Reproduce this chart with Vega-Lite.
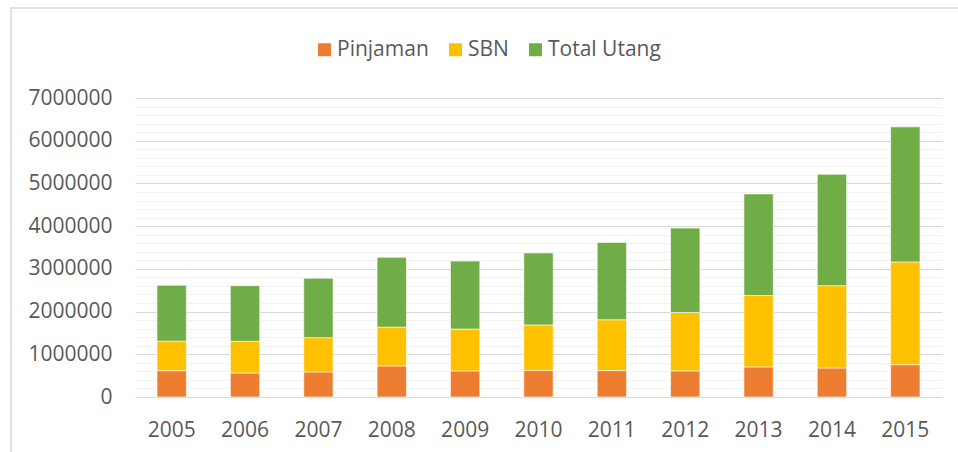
{
  "$schema": "https://vega.github.io/schema/vega-lite/v6.json",
  "width": 959,
  "height": 452,
  "autosize": "none",
  "padding": {"left": 11, "top": 8, "right": 0, "bottom": 0},
  "background": "white",
  "config": {
    "view": {"stroke": "#D9D9D9", "strokeWidth": 1.5},
    "font": "Open Sans"
  },
  "data": {
    "values": [
      {"year": "2005", "series": "Pinjaman", "ord": 1, "value": 615000},
      {"year": "2005", "series": "SBN", "ord": 2, "value": 693000},
      {"year": "2005", "series": "Total Utang", "ord": 3, "value": 1308000},
      {"year": "2006", "series": "Pinjaman", "ord": 1, "value": 563000},
      {"year": "2006", "series": "SBN", "ord": 2, "value": 740000},
      {"year": "2006", "series": "Total Utang", "ord": 3, "value": 1303000},
      {"year": "2007", "series": "Pinjaman", "ord": 1, "value": 587000},
      {"year": "2007", "series": "SBN", "ord": 2, "value": 803000},
      {"year": "2007", "series": "Total Utang", "ord": 3, "value": 1390000},
      {"year": "2008", "series": "Pinjaman", "ord": 1, "value": 728000},
      {"year": "2008", "series": "SBN", "ord": 2, "value": 907000},
      {"year": "2008", "series": "Total Utang", "ord": 3, "value": 1635000},
      {"year": "2009", "series": "Pinjaman", "ord": 1, "value": 611000},
      {"year": "2009", "series": "SBN", "ord": 2, "value": 980000},
      {"year": "2009", "series": "Total Utang", "ord": 3, "value": 1591000},
      {"year": "2010", "series": "Pinjaman", "ord": 1, "value": 622000},
      {"year": "2010", "series": "SBN", "ord": 2, "value": 1065000},
      {"year": "2010", "series": "Total Utang", "ord": 3, "value": 1687000},
      {"year": "2011", "series": "Pinjaman", "ord": 1, "value": 619000},
      {"year": "2011", "series": "SBN", "ord": 2, "value": 1190000},
      {"year": "2011", "series": "Total Utang", "ord": 3, "value": 1809000},
      {"year": "2012", "series": "Pinjaman", "ord": 1, "value": 612000},
      {"year": "2012", "series": "SBN", "ord": 2, "value": 1365000},
      {"year": "2012", "series": "Total Utang", "ord": 3, "value": 1977000},
      {"year": "2013", "series": "Pinjaman", "ord": 1, "value": 705000},
      {"year": "2013", "series": "SBN", "ord": 2, "value": 1672000},
      {"year": "2013", "series": "Total Utang", "ord": 3, "value": 2377000},
      {"year": "2014", "series": "Pinjaman", "ord": 1, "value": 681000},
      {"year": "2014", "series": "SBN", "ord": 2, "value": 1925000},
      {"year": "2014", "series": "Total Utang", "ord": 3, "value": 2606000},
      {"year": "2015", "series": "Pinjaman", "ord": 1, "value": 757000},
      {"year": "2015", "series": "SBN", "ord": 2, "value": 2405000},
      {"year": "2015", "series": "Total Utang", "ord": 3, "value": 3162000}
    ]
  },
  "mark": {"type": "bar", "stroke": "white", "strokeWidth": 0.6},
  "encoding": {
    "x": {
      "field": "year",
      "type": "ordinal",
      "scale": {"range": [124, 931], "paddingInner": 0.6, "paddingOuter": 0.3},
      "axis": {
        "title": null,
        "orient": "bottom",
        "offset": -63,
        "labelPadding": 22,
        "ticks": false,
        "domain": false,
        "grid": false,
        "labelAngle": 0,
        "labelFont": "Open Sans",
        "labelFontSize": 21,
        "labelColor": "#595959"
      }
    },
    "y": {
      "field": "value",
      "type": "quantitative",
      "stack": "zero",
      "scale": {"domain": [0, 7000000], "range": [389, 90], "nice": false, "zero": true},
      "axis": {
        "title": null,
        "orient": "left",
        "offset": -124,
        "labelPadding": 23,
        "ticks": false,
        "domain": false,
        "format": "d",
        "values": [0, 200000, 400000, 600000, 800000, 1000000, 1200000, 1400000, 1600000, 1800000, 2000000, 2200000, 2400000, 2600000, 2800000, 3000000, 3200000, 3400000, 3600000, 3800000, 4000000, 4200000, 4400000, 4600000, 4800000, 5000000, 5200000, 5400000, 5600000, 5800000, 6000000, 6200000, 6400000, 6600000, 6800000, 7000000],
        "labelExpr": "datum.value % 1000000 === 0 ? datum.label : ''",
        "labelFont": "Open Sans",
        "labelFontSize": 21,
        "labelColor": "#595959",
        "gridColor": {"condition": {"test": "datum.value % 1000000 === 0", "value": "#D9D9D9"}, "value": "#F2F2F2"},
        "gridWidth": 1
      }
    },
    "color": {
      "field": "series",
      "type": "nominal",
      "scale": {"domain": ["Pinjaman", "SBN", "Total Utang"], "range": ["#ED7D31", "#FFC000", "#70AD47"]},
      "legend": {
        "title": null,
        "orient": "none",
        "direction": "horizontal",
        "legendX": 303,
        "legendY": 31,
        "padding": 0,
        "symbolType": "square",
        "symbolSize": 169,
        "symbolStrokeWidth": 0,
        "labelFont": "Open Sans",
        "labelFontSize": 21,
        "labelColor": "#595959",
        "labelOffset": 2,
        "columnPadding": 16
      }
    },
    "order": {"field": "ord", "type": "quantitative"}
  }
}
